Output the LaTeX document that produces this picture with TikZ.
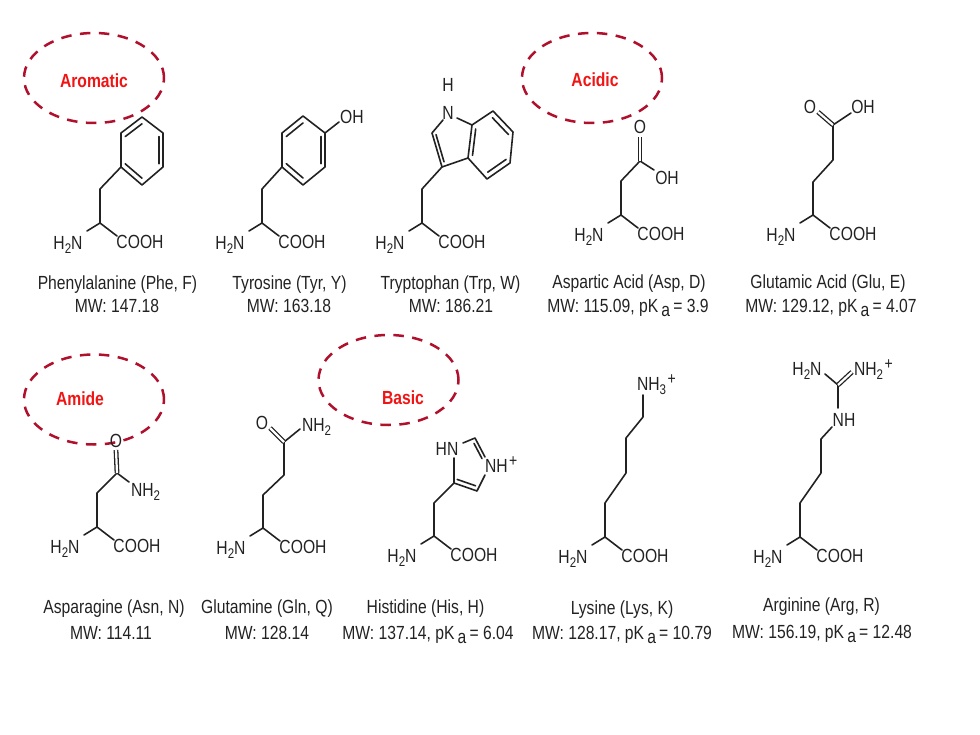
\documentclass[tikz,border=0pt]{standalone}
\usepackage{fontspec}
\setmainfont[FakeStretch=0.825]{Liberation Sans}
\usetikzlibrary{calc,shapes.geometric}
\definecolor{ink}{HTML}{222222}
\definecolor{ovalred}{HTML}{B0102C}
\definecolor{tagred}{HTML}{F01414}
\newcommand{\lowr}[1]{\raisebox{-3.5pt}{\fontsize{14}{14}\selectfont #1}}
\newcommand{\uppr}{\hspace{1.5pt}\raisebox{6pt}{\fontsize{17}{17}\selectfont +}}
\newcommand{\pKa}{pK\,\raisebox{-3.5pt}{a}}
\newcommand{\ringdbl}[3]{\draw[bond] ($(#1)!.2!(#3)$) -- ($(#2)!.2!(#3)$);}
\newcommand{\backbone}[3]{%
  \coordinate (#1-a) at (#2,#3);
  \coordinate (#1-na) at ($(#2,#3)+(-13,8)$);
  \coordinate (#1-ca) at ($(#2,#3)+(17,13)$);
  \node[lab] (#1-N) at ($(#2,#3)+(-32,20)$) {H\lowr{2}N};
  \node[lab] (#1-C) at ($(#2,#3)+(40,18.5)$) {COOH};
  \draw[bond] (#1-na) -- (#1-a) -- (#1-ca);}
\tikzset{
  lab/.style={anchor=base,inner sep=0pt,outer sep=0pt,text=ink,font=\fontsize{19}{19}\selectfont,yshift=-6.8pt},
  tag/.style={anchor=base,inner sep=0pt,outer sep=0pt,text=tagred,font=\fontsize{19}{19}\selectfont\bfseries,yshift=-6.8pt},
  bond/.style={draw=ink,line width=1.6pt,line join=round,line cap=round},
  dbond/.style={draw=ink,double=white,double distance=2.2pt,line width=1.3pt},
  oval/.style={draw=ovalred,line width=2.5pt,dash pattern=on 10.5pt off 8.5pt,ellipse,minimum width=140pt,minimum height=90pt,inner sep=0pt}
}
\begin{document}
\begin{tikzpicture}[x=1pt,y=-1pt]
\useasboundingbox (0,0) rectangle (980,735);
% ovals
\node[oval] (ovAromatic) at (94,78) {};
\node[oval] (ovAcidic) at (592,78) {};
\node[oval] (ovAmide) at (94,399.5) {};
\node[oval] (ovBasic) at (388.5,380) {};
\node[tag] (tAromatic) at (94,81) {Aromatic};
\node[tag] (tAcidic) at (595,80) {Acidic};
\node[tag] (tAmide) at (80,399) {Amide};
\node[tag] (tBasic) at (403,398) {Basic};
% Phe
\backbone{phe}{100}{223}
\coordinate (phe1) at (100,189);
\coordinate (pheA) at (121,167); \coordinate (pheB) at (121,133); \coordinate (pheC) at (142,117);
\coordinate (pheD) at (163,133); \coordinate (pheE) at (163,167); \coordinate (pheF) at (142,185);
\coordinate (pheO) at (142,151);
\draw[bond] (phe-a) -- (phe1) -- (pheA);
\draw[bond] (pheA) -- (pheB) -- (pheC) -- (pheD) -- (pheE) -- (pheF) -- cycle;
\ringdbl{pheB}{pheC}{pheO} \ringdbl{pheD}{pheE}{pheO} \ringdbl{pheF}{pheA}{pheO}
\node[lab] (pheName) at (117.5,283) {Phenylalanine (Phe, F)};
\node[lab] (pheMW) at (117,306) {MW: 147.18};
% Tyr
\backbone{tyr}{262}{223}
\coordinate (tyr1) at (262,189);
\coordinate (tyrA) at (282,167); \coordinate (tyrB) at (282,133); \coordinate (tyrC) at (303,116);
\coordinate (tyrD) at (325,133); \coordinate (tyrE) at (325,167); \coordinate (tyrF) at (303,185);
\coordinate (tyrO) at (303.5,150.5); \coordinate (tyrOb) at (339,122);
\draw[bond] (tyr-a) -- (tyr1) -- (tyrA);
\draw[bond] (tyrA) -- (tyrB) -- (tyrC) -- (tyrD) -- (tyrE) -- (tyrF) -- cycle;
\draw[bond] (tyrD) -- (tyrOb);
\ringdbl{tyrB}{tyrC}{tyrO} \ringdbl{tyrD}{tyrE}{tyrO} \ringdbl{tyrF}{tyrA}{tyrO}
\node[lab] (tyrOH) at (352,117) {OH};
\node[lab] (tyrName) at (289.5,283) {Tyrosine (Tyr, Y)};
\node[lab] (tyrMW) at (289,306) {MW: 163.18};
% Trp
\backbone{trp}{422}{223}
\coordinate (trp1) at (422,189); \coordinate (trpC3) at (442,167); \coordinate (trpC2) at (432,133);
\coordinate (trpNa) at (443,120); \coordinate (trpNb) at (457,118);
\coordinate (trpC7a) at (472,125); \coordinate (trpC3a) at (468,158);
\coordinate (trpC7) at (493,111); \coordinate (trpC6) at (513,132); \coordinate (trpC5) at (510,163); \coordinate (trpC4) at (487,179);
\coordinate (trpO5) at (452,141); \coordinate (trpO6) at (490.5,145);
\draw[bond] (trp-a) -- (trp1) -- (trpC3) -- (trpC2) -- (trpNa);
\draw[bond] (trpNb) -- (trpC7a);
\draw[bond] (trpC7a) -- (trpC7) -- (trpC6) -- (trpC5) -- (trpC4) -- (trpC3a) -- cycle;
\draw[bond] (trpC3a) -- (trpC3);
\ringdbl{trpC2}{trpC3}{trpO5} \ringdbl{trpC7a}{trpC3a}{trpO6} \ringdbl{trpC7}{trpC6}{trpO6} \ringdbl{trpC5}{trpC4}{trpO6}
\node[lab] (trpN) at (448,113) {N};
\node[lab] (trpH) at (448,85) {H};
\node[lab] (trpName) at (450.5,283) {Tryptophan (Trp, W)};
\node[lab] (trpMW) at (451,306) {MW: 186.21};
% Asp
\backbone{asp}{621}{215}
\coordinate (asp1) at (621,181); \coordinate (asp2) at (640,161); \coordinate (aspOa) at (640,137); \coordinate (aspHa) at (654,170);
\draw[bond] (asp-a) -- (asp1) -- (asp2) -- (aspHa);
\draw[dbond] (asp2) -- (aspOa);
\node[lab] (aspO) at (640,127) {O};
\node[lab] (aspOH) at (667,177.5) {OH};
\node[lab] (aspName) at (629,282) {Aspartic Acid (Asp, D)};
\node[lab] (aspMW) at (628,306) {MW: 115.09, \pKa\,= 3.9};
% Glu
\backbone{glu}{813}{215}
\coordinate (glu1) at (813,182); \coordinate (glu2) at (833,160); \coordinate (glu3) at (833,125);
\coordinate (gluOa) at (818,112); \coordinate (gluHa) at (851,113);
\draw[bond] (glu-a) -- (glu1) -- (glu2) -- (glu3) -- (gluHa);
\draw[dbond] (glu3) -- (gluOa);
\node[lab] (gluO) at (810,107) {O};
\node[lab] (gluOH) at (863,107) {OH};
\node[lab] (gluName) at (828,282) {Glutamic Acid (Glu, E)};
\node[lab] (gluMW) at (831,306) {MW: 129.12, \pKa\,= 4.07};
% Asn
\backbone{asn}{97}{527}
\coordinate (asn1) at (97,493); \coordinate (asn2) at (117,473); \coordinate (asnOa) at (116,450); \coordinate (asnNa) at (129,482);
\draw[bond] (asn-a) -- (asn1) -- (asn2) -- (asnNa);
\draw[dbond] (asn2) -- (asnOa);
\node[lab] (asnO) at (116,441) {O};
\node[lab,anchor=base west] (asnNH) at (131,490) {NH\lowr{2}};
\node[lab] (asnName) at (114,607) {Asparagine (Asn, N)};
\node[lab] (asnMW) at (111,633) {MW: 114.11};
% Gln
\backbone{gln}{263}{528}
\coordinate (gln1) at (263,495); \coordinate (gln2) at (284,475); \coordinate (gln3) at (284,442);
\coordinate (glnOa) at (270,428); \coordinate (glnNa) at (300,429);
\draw[bond] (gln-a) -- (gln1) -- (gln2) -- (gln3) -- (glnNa);
\draw[dbond] (gln3) -- (glnOa);
\node[lab] (glnO) at (262,423) {O};
\node[lab,anchor=base west] (glnNH) at (302,425) {NH\lowr{2}};
\node[lab] (glnName) at (267,607) {Glutamine (Gln, Q)};
\node[lab] (glnMW) at (267,633) {MW: 128.14};
% His
\backbone{his}{434}{536}
\coordinate (his1) at (434,503); \coordinate (hisC4) at (454,483); \coordinate (hisC5) at (477,491);
\coordinate (hisN1) at (454,458); \coordinate (hisN1b) at (463,443); \coordinate (hisC2) at (475,438);
\coordinate (hisN3a) at (485,457); \coordinate (hisN3b) at (485,475); \coordinate (hisO) at (470,465);
\draw[bond] (his-a) -- (his1) -- (hisC4) -- (hisC5) -- (hisN3b);
\draw[bond] (hisC4) -- (hisN1);
\draw[bond] (hisN1b) -- (hisC2) -- (hisN3a);
\ringdbl{hisC4}{hisC5}{hisO} \ringdbl{hisC2}{hisN3a}{hisO}
\node[lab] (hisHN) at (447,449) {HN};
\node[lab,anchor=base west] (hisNH) at (485,466) {NH\uppr};
\node[lab] (hisName) at (425.5,607) {Histidine (His, H)};
\node[lab] (hisMW) at (428,633) {MW: 137.14, \pKa\,= 6.04};
% Lys
\backbone{lys}{605}{537}
\coordinate (lys1) at (605,503); \coordinate (lys2) at (626,473); \coordinate (lys3) at (626,438);
\coordinate (lys4) at (643,417); \coordinate (lysNa) at (643,395);
\draw[bond] (lys-a) -- (lys1) -- (lys2) -- (lys3) -- (lys4) -- (lysNa);
\node[lab,anchor=base west] (lysNH) at (637,384) {NH\lowr{3}\uppr};
\node[lab] (lysName) at (622,608) {Lysine (Lys, K)};
\node[lab] (lysMW) at (622,633) {MW: 128.17, \pKa\,= 10.79};
% Arg
\backbone{arg}{800}{537}
\coordinate (arg1) at (800,503); \coordinate (arg2) at (821,473); \coordinate (arg3) at (821,439);
\coordinate (arg4) at (832,427); \coordinate (argNb) at (838,408); \coordinate (argC) at (838,385);
\coordinate (argL) at (825,374); \coordinate (argR) at (852,372);
\draw[bond] (arg-a) -- (arg1) -- (arg2) -- (arg3) -- (arg4);
\draw[bond] (argNb) -- (argC) -- (argL);
\draw[dbond] (argC) -- (argR);
\node[lab] (argNHa) at (844,420) {NH};
\node[lab] (argH2N) at (807,369) {H\lowr{2}N};
\node[lab,anchor=base west] (argNHb) at (854,369) {NH\lowr{2}\uppr};
\node[lab] (argName) at (821.5,605) {Arginine (Arg, R)};
\node[lab] (argMW) at (822,632) {MW: 156.19, \pKa\,= 12.48};
\end{tikzpicture}
\end{document}
